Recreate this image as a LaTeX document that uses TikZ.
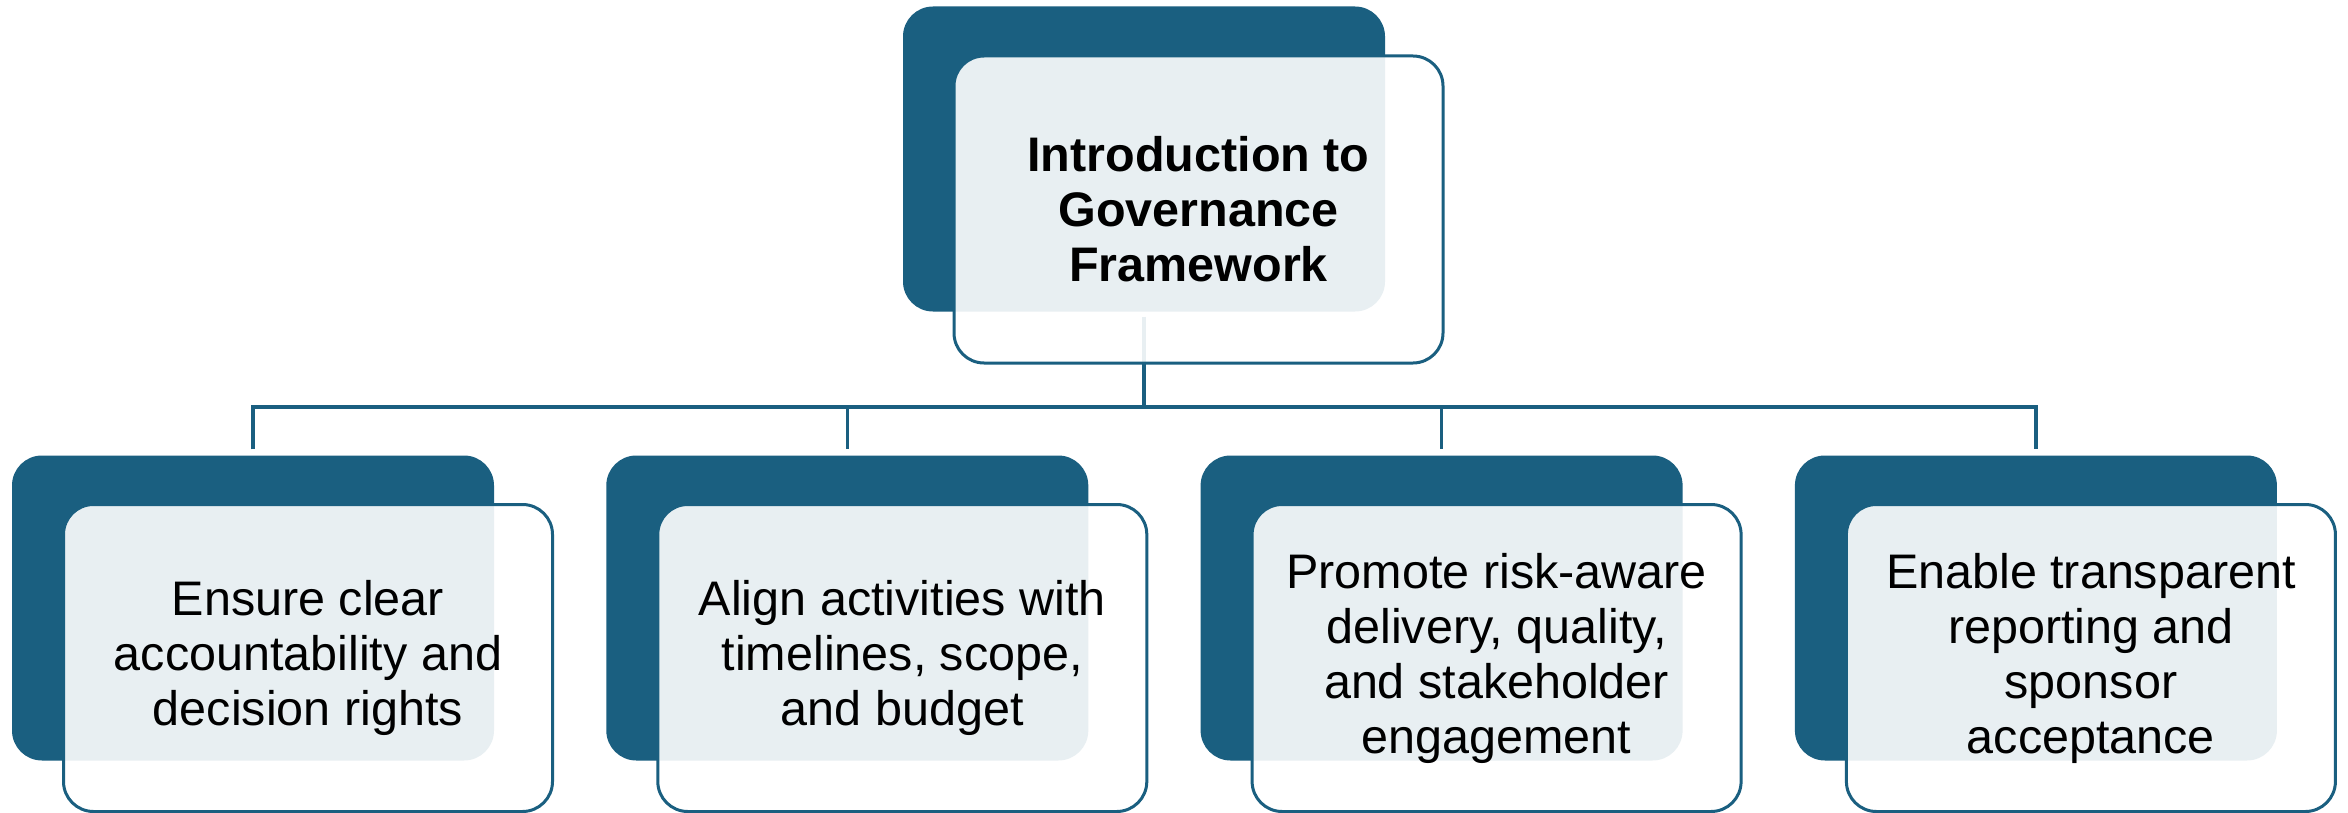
\documentclass[tikz,border=0pt]{standalone}
\usepackage{fontspec}
\setmainfont{Liberation Sans}
\definecolor{navy}{HTML}{1A5F80}
\begin{document}
\begin{tikzpicture}[x=1pt,y=-1pt,
  back/.style={fill=navy, draw=none, rounded corners=30pt, minimum width=482pt, minimum height=305pt, inner sep=0pt},
  front/.style={fill=white, fill opacity=0.9, text opacity=1, draw=navy, line width=3pt, rounded corners=30pt,
    minimum width=489pt, minimum height=307pt, inner sep=0pt, align=center, font=\fontsize{48.5}{55}\selectfont},
  title/.style={front, font=\fontsize{48.5}{55}\selectfont\bfseries},
  conn/.style={draw=navy, line width=3.5pt}]
\useasboundingbox (0,0) rectangle (2348,813);
\fill[white] (0,0) rectangle (2348,813);
% back boxes
\node[back] (t0) at (1144,159) {};
\node[back] (b1) at (253,608) {};
\node[back] (b2) at (847.3,608) {};
\node[back] (b3) at (1441.6,608) {};
\node[back] (b4) at (2035.9,608) {};
% connectors
\coordinate (bus) at (1144,407);
\draw[conn, shorten <=5pt] (t0.south) -- (t0.south |- bus);
\draw[conn, shorten <=6pt, shorten >=6pt] (b1.north) -- (b1.north |- bus) -- (b4.north |- bus) -- (b4.north);
\draw[conn, shorten >=6pt] (b2.north |- bus) -- (b2.north);
\draw[conn, shorten >=6pt] (b3.north |- bus) -- (b3.north);
% front boxes
\node[title] (f0) at (1198.5,209.5) {Introduction to\\Governance\\Framework};
\node[front] (f1) at (308,658) {Ensure clear\\accountability and\\decision rights};
\node[front] (f2) at (902.3,658) {Align activities with\\timelines, scope,\\and budget};
\node[front] (f3) at (1496.6,658) {Promote risk-aware\\delivery, quality,\\and stakeholder\\engagement};
\node[front] (f4) at (2090.9,658) {Enable transparent\\reporting and\\sponsor\\acceptance};
\end{tikzpicture}
\end{document}
